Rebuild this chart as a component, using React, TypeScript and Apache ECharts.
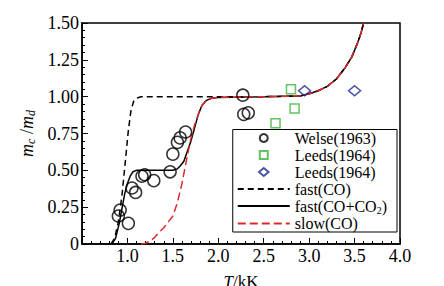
import React, { useEffect, useRef } from "react";
import * as echarts from "echarts";

const welse: number[][] = [
  [0.92, 0.23], [0.9, 0.19], [1.01, 0.14], [1.05, 0.38], [1.09, 0.35],
  [1.16, 0.46], [1.19, 0.47], [1.29, 0.43], [1.47, 0.49], [1.5, 0.61],
  [1.55, 0.69], [1.58, 0.72], [1.64, 0.76], [2.27, 1.01], [2.28, 0.88], [2.33, 0.89],
];
const leedsSq: number[][] = [[2.8, 1.05], [2.84, 0.92], [2.63, 0.82]];
const leedsDia: number[][] = [[2.95, 1.04], [3.5, 1.04]];

const upper: number[][] = [
  [2.0, 0.995], [2.5, 1.0], [2.9, 1.005], [3.0, 1.02], [3.1, 1.04], [3.2, 1.07],
  [3.3, 1.12], [3.4, 1.2], [3.47, 1.27], [3.53, 1.36], [3.57, 1.43], [3.6, 1.5],
];
const fastCO: number[][] = [
  [0.82, 0], [0.86, 0.04], [0.9, 0.15], [0.94, 0.33], [0.98, 0.58], [1.01, 0.77],
  [1.04, 0.91], [1.07, 0.97], [1.1, 0.99], [1.15, 1.0], [2.0, 1.0], [2.5, 1.0],
  [2.9, 1.005], [3.0, 1.02], [3.1, 1.04], [3.2, 1.07], [3.3, 1.12], [3.4, 1.2],
  [3.47, 1.27], [3.53, 1.36], [3.57, 1.43], [3.6, 1.5],
];
const fastCOCO2: number[][] = [
  [0.83, 0], [0.87, 0.04], [0.91, 0.14], [0.94, 0.24], [0.97, 0.34], [1.0, 0.41],
  [1.03, 0.46], [1.06, 0.49], [1.1, 0.5], [1.3, 0.5], [1.5, 0.5], [1.55, 0.51],
  [1.58, 0.53], [1.62, 0.56], [1.66, 0.63], [1.7, 0.7], [1.74, 0.79], [1.78, 0.88],
  [1.82, 0.94], [1.87, 0.975], [1.93, 0.99], ...upper,
];
const slowCO: number[][] = [
  [1.15, 0], [1.2, 0.005], [1.25, 0.02], [1.3, 0.045], [1.35, 0.08], [1.4, 0.11],
  [1.45, 0.15], [1.5, 0.19], [1.55, 0.28], [1.6, 0.41], [1.65, 0.57], [1.7, 0.72],
  [1.74, 0.81], [1.78, 0.88], [1.82, 0.94], [1.87, 0.975], [1.93, 0.99], ...upper,
];

const FONT = "'Liberation Serif', 'Times New Roman', serif";
const lineIconStyle = { color: "transparent", borderWidth: 0, opacity: 0 };

export default function App() {
  const ref = useRef<HTMLDivElement>(null);
  useEffect(() => {
    if (!ref.current) return;
    const chart = echarts.init(ref.current, null, { renderer: "svg" });
    chart.setOption({
      animation: false,
      backgroundColor: "#fff",
      textStyle: { fontFamily: FONT, color: "#000" },
      grid: {
        left: 82, right: 44, top: 23, bottom: 42,
        outerBoundsMode: "none", containLabel: false,
        show: true, borderColor: "#000", borderWidth: 1.5, backgroundColor: "transparent",
      },
      legend: {
        orient: "vertical",
        right: 47, bottom: 54,
        backgroundColor: "#fff",
        borderColor: "#000", borderWidth: 1, borderRadius: 0,
        padding: [0, 10, 0, 4],
        itemGap: 0,
        itemWidth: 52, itemHeight: 8,
        textStyle: {
          fontFamily: FONT, fontSize: 16, color: "#000", lineHeight: 17,
          rich: {
            n: { fontFamily: FONT, fontSize: 16, color: "#000", lineHeight: 17 },
            sub: { fontFamily: FONT, fontSize: 10, color: "#000", padding: [8, 0, 0, 0] },
          },
        },
        formatter: (name: string) =>
          name === "fast(CO+CO2)" ? "{n|fast(CO+CO}{sub|2}{n|)}" : name,
        data: [
          { name: "Welse(1963)" },
          { name: "Leeds(1964)", icon: "path://M0,0H10V10H0Z" },
          { name: "Leeds(1964) ", icon: "path://M6,0L12,5L6,10L0,5Z" },
          { name: "fast(CO)", itemStyle: lineIconStyle },
          { name: "fast(CO+CO2)", itemStyle: lineIconStyle },
          { name: "slow(CO)", itemStyle: lineIconStyle },
        ],
      },
      xAxis: {
        type: "value", min: 0.5, max: 4, interval: 0.5,
        name: "{i|T}{n|/kK}", nameLocation: "middle", nameGap: 29, nameMoveOverlap: false,
        nameTextStyle: {
          fontFamily: FONT, fontSize: 17, color: "#000", lineHeight: 17,
          rich: {
            i: { fontFamily: FONT, fontSize: 17, fontStyle: "italic", color: "#000", lineHeight: 17 },
            n: { fontFamily: FONT, fontSize: 17, color: "#000", lineHeight: 17 },
          },
        },
        axisLine: { onZero: false, lineStyle: { color: "#000", width: 1.5 } },
        axisTick: { inside: true, length: 6, lineStyle: { color: "#000", width: 1 } },
        minorTick: { show: true, splitNumber: 5, length: 3, lineStyle: { color: "#000", width: 1 } },
        axisLabel: {
          fontFamily: FONT, fontSize: 18, color: "#000", margin: 3,
          formatter: (v: number) => (v === 0.5 ? "" : v.toFixed(1)),
        },
        splitLine: { show: false },
      },
      yAxis: {
        type: "value", min: 0, max: 1.5, interval: 0.25,
        name: "{i|m}{s|c}{n| /}{i|m}{s|d}", nameLocation: "middle", nameGap: 38, nameRotate: 90,
        nameTextStyle: {
          fontFamily: FONT, fontSize: 18, color: "#000",
          rich: {
            i: { fontFamily: FONT, fontSize: 18, fontStyle: "italic", color: "#000" },
            n: { fontFamily: FONT, fontSize: 18, color: "#000" },
            s: { fontFamily: FONT, fontSize: 12, fontStyle: "italic", color: "#000", padding: [8, 0, 0, 0] },
          },
        },
        axisLine: { lineStyle: { color: "#000", width: 1.5 } },
        axisTick: { inside: true, length: 6, lineStyle: { color: "#000", width: 1 } },
        minorTick: { show: true, splitNumber: 5, length: 3, lineStyle: { color: "#000", width: 1 } },
        axisLabel: {
          fontFamily: FONT, fontSize: 18, color: "#000", margin: 3,
          formatter: (v: number) => (v === 0 ? "0" : v.toFixed(2)),
        },
        splitLine: { show: false },
      },
      series: [
        {
          name: "fast(CO)", type: "line", data: fastCO, symbol: "none", z: 3,
          lineStyle: { color: "#000", width: 1.5, type: [6, 4] },
          itemStyle: { color: "#000" },
        },
        {
          name: "fast(CO+CO2)", type: "line", data: fastCOCO2, symbol: "none", z: 2,
          lineStyle: { color: "#000", width: 1.5 },
          itemStyle: { color: "#000" },
        },
        {
          name: "slow(CO)", type: "line", data: slowCO, symbol: "none", z: 4,
          lineStyle: { color: "#e0282a", width: 1.5, type: [8, 4] },
          itemStyle: { color: "#e0282a" },
        },
        {
          name: "Welse(1963)", type: "scatter", data: welse, symbol: "circle", symbolSize: 12, z: 5,
          itemStyle: { color: "transparent", borderColor: "#000", borderWidth: 1.5 },
        },
        {
          name: "Leeds(1964)", type: "scatter", data: leedsSq, symbol: "rect", symbolSize: 9, z: 5,
          itemStyle: { color: "transparent", borderColor: "#3cb43c", borderWidth: 1.5 },
        },
        {
          name: "Leeds(1964) ", type: "scatter", data: leedsDia, symbol: "diamond", symbolSize: [12, 10], z: 5,
          itemStyle: { color: "transparent", borderColor: "#1c2a8c", borderWidth: 1.5 },
        },
      ],
    });
    return () => chart.dispose();
  }, []);
  return (
    <div
      ref={ref}
      style={{ position: "absolute", left: 0, top: 0, width: 444, height: 286 }}
    />
  );
}
